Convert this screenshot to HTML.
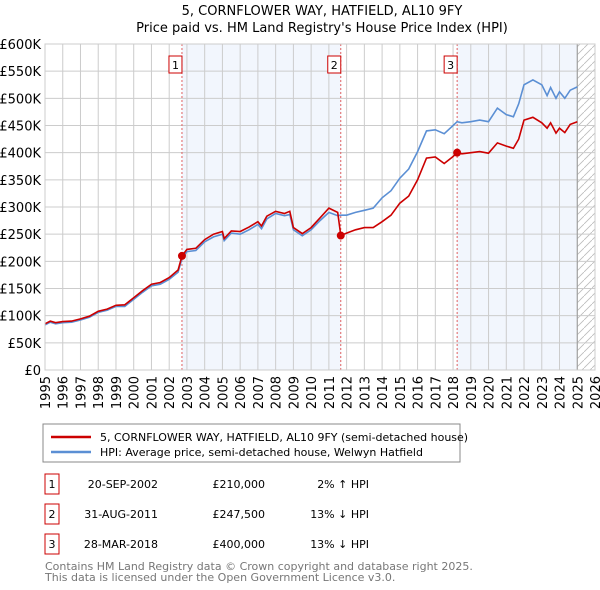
<!DOCTYPE html>
<html><head><meta charset="utf-8"><style>
body{margin:0;background:#fff;font-family:"Liberation Sans","DejaVu Sans",sans-serif;}
svg{display:block}
</style></head><body>
<svg id="c" width="600" height="590" xmlns="http://www.w3.org/2000/svg" font-family="DejaVu Sans, Liberation Sans, sans-serif">
<text x="322" y="15" text-anchor="middle" font-size="13">5, CORNFLOWER WAY, HATFIELD, AL10 9FY</text>
<text x="322" y="32" text-anchor="middle" font-size="13">Price paid vs. HM Land Registry's House Price Index (HPI)</text>
<g id="plot"></g>
<g>
<rect x="43" y="424" width="417" height="38" fill="#fff" stroke="#888"/>
<line x1="51" y1="437" x2="91" y2="437" stroke="#cc0000" stroke-width="2.5"/>
<text x="100" y="441" font-size="11">5, CORNFLOWER WAY, HATFIELD, AL10 9FY (semi-detached house)</text>
<line x1="51" y1="452" x2="91" y2="452" stroke="#5b8fd4" stroke-width="2.5"/>
<text x="100" y="456" font-size="11">HPI: Average price, semi-detached house, Welwyn Hatfield</text>
</g>
<g font-size="11">
<rect x="45" y="474" width="14" height="20" fill="#fff" stroke="#cc0000"/>
<text x="52" y="488" text-anchor="middle">1</text>
<text x="158" y="488" text-anchor="end">20-SEP-2002</text>
<text x="265" y="488" text-anchor="end">£210,000</text>
<text x="369" y="488" text-anchor="end">2% ↑ HPI</text>
<rect x="45" y="504" width="14" height="20" fill="#fff" stroke="#cc0000"/>
<text x="52" y="518" text-anchor="middle">2</text>
<text x="158" y="518" text-anchor="end">31-AUG-2011</text>
<text x="265" y="518" text-anchor="end">£247,500</text>
<text x="369" y="518" text-anchor="end">13% ↓ HPI</text>
<rect x="45" y="534" width="14" height="20" fill="#fff" stroke="#cc0000"/>
<text x="52" y="548" text-anchor="middle">3</text>
<text x="158" y="548" text-anchor="end">28-MAR-2018</text>
<text x="265" y="548" text-anchor="end">£400,000</text>
<text x="369" y="548" text-anchor="end">13% ↓ HPI</text>
</g>
<text x="45" y="570" font-size="11" fill="#777">Contains HM Land Registry data © Crown copyright and database right 2025.</text>
<text x="45" y="581" font-size="11" fill="#777">This data is licensed under the Open Government Licence v3.0.</text>
</svg>
<script>
const times=[1995,1995.3,1995.6,1996,1996.5,1997,1997.5,1998,1998.5,1999,1999.5,2000,2000.5,2001,2001.5,2002,2002.5,2002.72,2003,2003.5,2004,2004.5,2005,2005.1,2005.5,2006,2006.5,2007,2007.2,2007.5,2008,2008.5,2008.8,2009,2009.5,2010,2010.5,2011,2011.5,2011.67,2012,2012.5,2013,2013.5,2014,2014.5,2015,2015.5,2016,2016.5,2017,2017.5,2018,2018.23,2018.5,2019,2019.5,2020,2020.5,2021,2021.4,2021.7,2022,2022.5,2023,2023.3,2023.5,2023.8,2024,2024.3,2024.6,2025];
const hpiValues=[83,88,85,87,88,92,97,106,110,117,117,130,143,155,158,167,180,205,218,220,236,245,250,238,252,250,258,268,260,278,288,284,286,258,247,258,275,290,284,285,285,290,294,298,317,330,353,370,402,440,442,435,450,457,455,457,460,457,482,470,466,490,525,534,525,505,520,500,512,500,515,521];
const priceValues=[85,90,87,89,90,94,99,108,112,119,120,133,146,158,161,170,184,210,222,224,240,250,255,242,256,255,263,273,265,283,292,288,292,262,251,262,280,298,290,247.5,252,258,262,262,273,285,307,320,350,390,392,380,393,400,398,400,402,399,418,412,408,425,460,465,455,445,455,436,445,437,452,457];
const sales=[[2002.72,210],[2011.67,247.5],[2018.23,400]];
const yTicks=[0,50,100,150,200,250,300,350,400,450,500,550,600];
const yTickLabels=["£0","£50K","£100K","£150K","£200K","£250K","£300K","£350K","£400K","£450K","£500K","£550K","£600K"];
const xTicks=[1995,1996,1997,1998,1999,2000,2001,2002,2003,2004,2005,2006,2007,2008,2009,2010,2011,2012,2013,2014,2015,2016,2017,2018,2019,2020,2021,2022,2023,2024,2025,2026];

const L=45,R=595,T=44,B=370;
const X=t=>L+(t-1995)/(2026-1995)*(R-L);
const Y=v=>B-v/600*(B-T);
const NS="http://www.w3.org/2000/svg";
const g=document.getElementById('plot');
function mk(tag,attrs,parent){const e=document.createElementNS(NS,tag);for(const k in attrs)e.setAttribute(k,attrs[k]);(parent||g).appendChild(e);return e;}

let bg=mk('rect',{x:L,y:T,width:R-L,height:B-T,fill:'#fff'});


let s1=mk('rect',{x:X(sales[0][0]),y:T,width:X(sales[1][0])-X(sales[0][0]),height:B-T,fill:'#f2f6fd'});


let s3=mk('rect',{x:X(sales[2][0]),y:T,width:X(2025)-X(sales[2][0]),height:B-T,fill:'#f2f6fd'});


const defs=mk('defs',{});
const pat=mk('pattern',{id:'hatch',width:8,height:8,patternUnits:'userSpaceOnUse'},defs);
mk('path',{d:'M0,8 L8,0',stroke:'#bbb','stroke-width':0.8},pat);
let h=mk('rect',{x:X(2025),y:T,width:R-X(2025),height:B-T,fill:'url(#hatch)'});



yTicks.forEach((v,i)=>{
  let l=mk('line',{x1:L,x2:R,y1:Y(v),y2:Y(v),stroke:'#ccc','stroke-width':1});
  
  
  let t=mk('text',{x:L-4,y:Y(v)+5,'text-anchor':'end','font-size':13});
  t.textContent=yTickLabels[i];
  
  
});
xTicks.forEach(yr=>{
  let l=mk('line',{x1:X(yr),x2:X(yr),y1:T,y2:B,stroke:'#ccc','stroke-width':1});
  
  
  let t=mk('text',{x:0,y:0,'text-anchor':'end','font-size':13,transform:`translate(${X(yr)+5},${B+6}) rotate(-90)`});
  t.textContent=yr;
  
  
});
let nl=mk('line',{x1:X(2025),x2:X(2025),y1:T,y2:B,stroke:'#999','stroke-width':1});



sales.forEach((s,i)=>{
  let l=mk('line',{x1:X(s[0]),x2:X(s[0]),y1:T,y2:B,stroke:'#e06060','stroke-width':1,'stroke-dasharray':'2,2'});
  
  
  let r=mk('rect',{x:X(s[0])-13,y:56,width:13,height:17,fill:'#fff',stroke:'#cc0000'});
  
  
  let t=mk('text',{x:X(s[0])-6.5,y:69,'text-anchor':'middle','font-size':11});
  t.textContent=String(i+1);
  
  
});

const pts=a=>times.map((t,i)=>X(t).toFixed(1)+','+Y(a[i]).toFixed(1)).join(' ');
let hp=mk('polyline',{points:pts(hpiValues),fill:'none',stroke:'#5b8fd4','stroke-width':1.6});


let pp=mk('polyline',{points:pts(priceValues),fill:'none',stroke:'#cc0000','stroke-width':1.6});


sales.forEach(s=>{
  let c=mk('circle',{cx:X(s[0]),cy:Y(s[1]),r:4,fill:'#cc0000'});
  
  
});
let fr=mk('rect',{x:L,y:T,width:R-L,height:B-T,fill:'none',stroke:'#ccc'});


</script>
</body></html>
